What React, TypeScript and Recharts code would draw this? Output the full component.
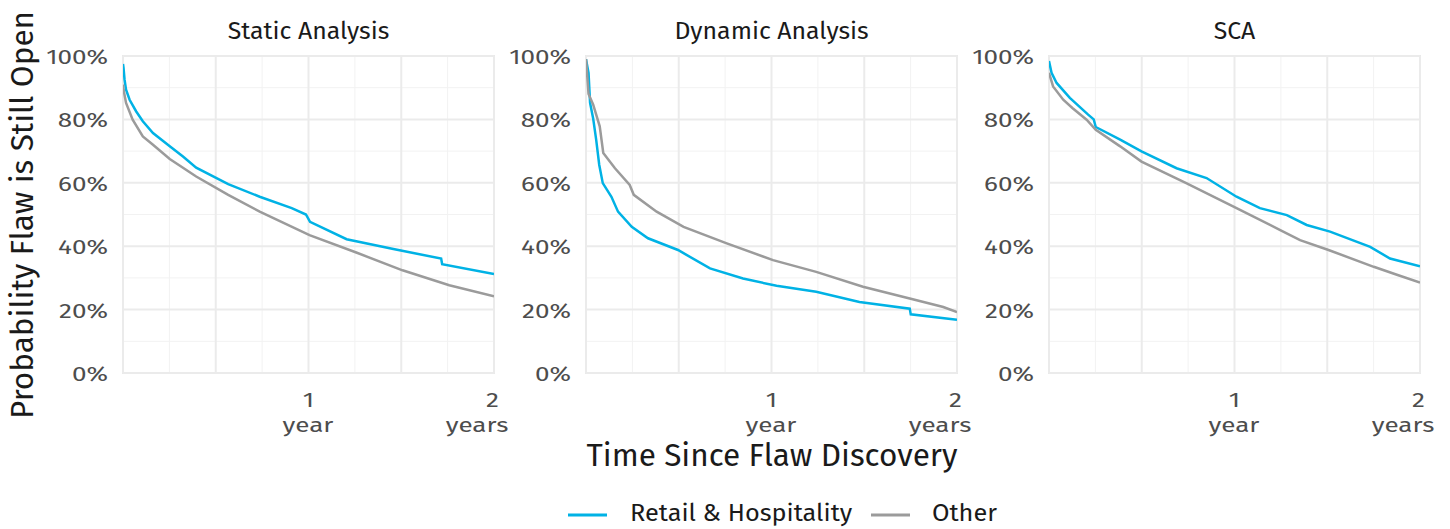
import { LineChart, Line, XAxis, YAxis, ReferenceLine, ReferenceArea } from "recharts";

const FONT = "'Fira Sans', 'Open Sans', sans-serif";
const BLUE = "#00B2E5";
const GREY = "#9B9B9B";

const facetTitles = ["Static Analysis", "Dynamic Analysis", "SCA"];
const seriesNames = ["Retail & Hospitality", "Other"];
const yTicks = [0, 20, 40, 60, 80, 100];
const yMinor = [10, 30, 50, 70, 90];
const xTicks = [365, 730];
const xTickLabels = [["1", "year"], ["2", "years"]];
const xMajor = [0, 182.5, 365, 547.5, 730];
const xMinor = [91.25, 273.75, 456.25, 638.75];

// [days, % still open]
const staticRetail = [
  [0, 97.5], [1, 96.3], [3, 92.6], [6, 89.4], [13, 86.2], [26, 82.5], [39, 79.4],
  [59, 75.7], [92, 71.5], [118, 68.3], [144, 64.8], [207, 59.6], [269, 55.6],
  [332, 52], [360, 50], [368, 47.7], [440, 42.2], [532, 39.1], [626, 36.1],
  [628, 34.3], [730, 31.2],
];
const staticOther = [
  [0, 91], [1, 89.4], [6, 85.2], [19, 79.9], [39, 74.6], [59, 72], [92, 67.5],
  [144, 62], [207, 56.2], [269, 50.9], [367, 43.5], [459, 38], [550, 32.4],
  [642, 27.7], [730, 24.2],
];
const dynamicRetail = [
  [0, 99], [5, 94.7], [8, 85.2], [14, 80.4], [20, 73.6], [26, 65.7], [33, 59.9],
  [50, 55.6], [63, 50.9], [90, 46.1], [122, 42.5], [181, 38.8], [244, 33],
  [309, 29.8], [375, 27.5], [453, 25.6], [538, 22.4], [637, 20.3], [639, 18.5],
  [730, 16.8],
];
const dynamicOther = [
  [0, 99], [5, 88], [14, 84.7], [27, 77.8], [34, 69.4], [57, 64.6], [86, 59.3],
  [94, 56.2], [139, 50.9], [192, 46.1], [277, 40.9], [368, 35.6], [453, 31.9],
  [545, 27.2], [637, 23.5], [703, 20.8], [730, 19.2],
];
const scaRetail = [
  [0, 98.4], [5, 94.7], [15, 91.5], [41, 86.8], [77, 81.5], [88, 80], [92, 77.6],
  [140, 73.6], [182, 69.9], [251, 64.6], [310, 61.5], [369, 55.6], [415, 52],
  [468, 49.8], [507, 46.7], [553, 44.6], [632, 39.8], [671, 36.1], [730, 33.7],
];
const scaOther = [
  [0, 94.7], [8, 90.4], [28, 86.2], [46, 83.6], [74, 79.9], [92, 76.7], [140, 71.5],
  [182, 66.7], [270, 59.9], [369, 52], [455, 45.1], [494, 41.9], [550, 38.8],
  [639, 33.5], [686, 30.9], [730, 28.5],
];

const facetData = [
  [staticRetail, staticOther],
  [dynamicRetail, dynamicOther],
  [scaRetail, scaOther],
];
const seriesColors = [BLUE, GREY];

const chartLefts = [36, 499, 962];
const CHART_W = 478;
const CHART_H = 440;
const Y_AXIS_W = 87;
const TICK_FONT = 20.5;
const TICK_SX = 1.27;

const toRows = (pts: number[][]) => pts.map(([d, p]) => ({ d, p }));

const XTick = ({ x, y, payload }: any) => {
  const idx = xTicks.indexOf(payload.value);
  const lines = xTickLabels[idx] || ["", ""];
  const last = idx === xTicks.length - 1;
  return (
    <g>
      <text
        transform={`translate(${x - (last ? 1.5 : 0)},${y + 32}) scale(${TICK_SX},1)`}
        textAnchor="middle"
        fill="#4d4d4d"
        fontSize={TICK_FONT}
        fontFamily={FONT}
      >
        {lines[0]}
      </text>
      <text
        transform={`translate(${x - (last ? 17 : 0.5)},${y + 57}) scale(${TICK_SX},1)`}
        textAnchor="middle"
        fill="#4d4d4d"
        fontSize={TICK_FONT}
        fontFamily={FONT}
      >
        {lines[1]}
      </text>
    </g>
  );
};

const YTick = ({ x, y, payload }: any) => (
  <text
    transform={`translate(${x},${y + 8}) scale(${TICK_SX},1)`}
    textAnchor="end"
    fill="#4d4d4d"
    fontSize={TICK_FONT}
    fontFamily={FONT}
  >
    {`${payload.value}%`}
  </text>
);

const Facet = ({ idx }: { idx: number }) => (
  <div style={{ position: "absolute", left: chartLefts[idx], top: 0 }}>
    <LineChart width={CHART_W} height={CHART_H} margin={{ top: 56, right: 20, bottom: 0, left: 0 }}>
      {yMinor.map((v) => (
        <ReferenceLine key={`ym${v}`} y={v} stroke="#f2f2f2" strokeWidth={1} />
      ))}
      {xMinor.map((v) => (
        <ReferenceLine key={`xm${v}`} x={v} stroke="#f2f2f2" strokeWidth={1} />
      ))}
      {yTicks.map((v) => (
        <ReferenceLine key={`yM${v}`} y={v} stroke="#ebebeb" strokeWidth={2} />
      ))}
      {xMajor.map((v) => (
        <ReferenceLine key={`xM${v}`} x={v} stroke="#ebebeb" strokeWidth={2} />
      ))}
      <ReferenceArea x1={0} x2={730} y1={0} y2={100} fill="none" stroke="#d9d9d9" strokeWidth={1.5} />
      <XAxis
        dataKey="d"
        type="number"
        domain={[0, 730]}
        ticks={xTicks}
        tick={<XTick />}
        tickLine={false}
        axisLine={false}
        tickSize={0}
        height={CHART_H - 56 - 317}
        allowDataOverflow
        interval={0}
      />
      <YAxis
        type="number"
        domain={[0, 100]}
        ticks={yTicks}
        tickLine={false}
        axisLine={false}
        tickSize={0}
        tickMargin={15}
        width={Y_AXIS_W}
        interval={0}
        tick={<YTick />}
      />
      {facetData[idx].map((pts, s) => (
        <Line
          key={seriesNames[s]}
          data={toRows(pts)}
          dataKey="p"
          name={seriesNames[s]}
          type="linear"
          stroke={seriesColors[s]}
          strokeWidth={2.5}
          dot={false}
          activeDot={false}
          isAnimationActive={false}
        />
      ))}
    </LineChart>
  </div>
);

export default function App() {
  return (
    <div
      style={{
        position: "absolute",
        left: 0,
        top: 0,
        width: 1450,
        height: 529,
        background: "#ffffff",
        overflow: "hidden",
      }}
    >
      {facetTitles.map((_, i) => (
        <Facet key={i} idx={i} />
      ))}
      <svg width={1450} height={529} style={{ position: "absolute", left: 0, top: 0, pointerEvents: "none" }}>
        {facetTitles.map((t, i) => (
          <text
            key={t}
            transform={`translate(${chartLefts[i] + Y_AXIS_W + 185.5},38.5) scale(1.08,1)`}
            textAnchor="middle"
            fontFamily={FONT}
            fontSize={23}
            fill="#1a1a1a"
          >
            {t}
          </text>
        ))}
        <text
          transform="translate(33 215) rotate(-90)"
          textAnchor="middle"
          fontFamily={FONT}
          fontSize={31.5}
          fill="#1a1a1a"
        >
          Probability Flaw is Still Open
        </text>
        <text x={772} y={466} textAnchor="middle" fontFamily={FONT} fontSize={31.5} fill="#1a1a1a">
          Time Since Flaw Discovery
        </text>
        <line x1={568} x2={607} y1={515} y2={515} stroke={BLUE} strokeWidth={3} />
        <text transform="translate(630,521) scale(1.1,1)" fontFamily={FONT} fontSize={23} fill="#1a1a1a">
          {seriesNames[0]}
        </text>
        <line x1={871} x2={910} y1={515} y2={515} stroke={GREY} strokeWidth={3} />
        <text transform="translate(932,521) scale(1.1,1)" fontFamily={FONT} fontSize={23} fill="#1a1a1a">
          {seriesNames[1]}
        </text>
      </svg>
    </div>
  );
}
